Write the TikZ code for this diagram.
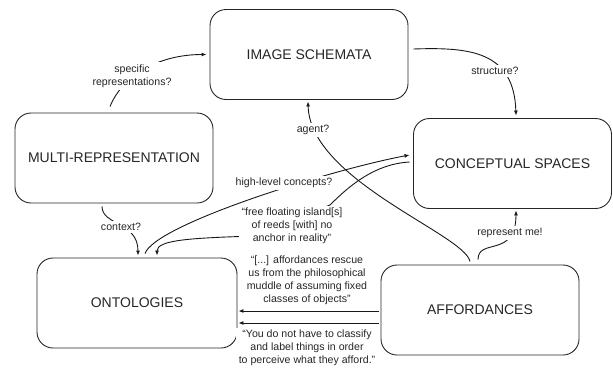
\documentclass[tikz,border=0pt]{standalone}
\usepackage{fontspec}
\setmainfont{Liberation Sans}
\usetikzlibrary{arrows.meta,calc}
\tikzset{
  box/.style={draw=black!85, line width=0.9pt, rounded corners=16pt, minimum width=198pt, minimum height=90pt, inner sep=0pt, font=\fontsize{14}{16}\selectfont, text=black!85},
  lbl/.style={fill=white, inner sep=2.5pt, align=center, font=\fontsize{10.6}{12.9}\selectfont, text=black!85},
  conn/.style={draw=black!90, line width=0.9pt, -{Latex[length=5pt,width=4pt]}}
}
\begin{document}
\begin{tikzpicture}[x=1pt,y=-1pt]
\useasboundingbox (0,0) rectangle (613,370);
% boxes
\node[box] (is) at (309,54.5) {IMAGE SCHEMATA};
\node[box] (mr) at (114,158) {MULTI-REPRESENTATION};
\node[box] (cs) at (512.5,163.5) {CONCEPTUAL SPACES};
\node[box,minimum width=200pt] (ont) at (137,303) {\raisebox{-5pt}{ONTOLOGIES}};
\node[box] (aff) at (480,310) {AFFORDANCES};
% connectors
\draw[conn] ([shift={(-4,-6)}]mr.north) .. controls +(13,-32) and +(-47,0) .. ([shift={(-3,0)}]is.west);
\draw[conn] ([shift={(5,-5.5)}]is.east) .. controls +(57,-2) and +(-2,-64) .. ([shift={(3.5,-2.5)}]cs.north);
\draw[conn] ([shift={(-10,-3)}]aff.north) .. controls +(-5,-27) and +(2,79) .. ([shift={(-1,1.5)}]is.south);
\draw[conn] ([shift={(8,-4)}]ont.north) .. controls +(10,-29) and +(-80,15) .. ([shift={(-3.5,-8.5)}]cs.west);
\draw[conn] ([shift={(-3.5,-1.5)}]cs.west) .. controls (375,164) and (350,185) .. (330,205) -- (255,236) .. controls (190,238) and (157,240) .. ([shift={(20,-2)}]ont.north);
\draw[conn] ([shift={(-12,3)}]mr.south) .. controls +(0,19) and +(0,-34) .. ([shift={(1,-2)}]ont.north);
\draw[conn] ([shift={(-2,-5)}]aff.north) .. controls +(0,-22) and +(0,48) .. ([shift={(3.5,1.5)}]cs.south);
\draw[conn] ([shift={(-2,1)}]aff.west) -- ([shift={(1,8)}]ont.east);
\draw[conn] ([shift={(-2,13)}]aff.west) -- ([shift={(1,20)}]ont.east);
% labels
\node[lbl] (l1) at (132,76) {specific\\representations?};
\node[lbl] (l2) at (495,71) {structure?};
\node[lbl] (l3) at (313,130) {agent?};
\node[lbl] (l4) at (284,183) {high-level concepts?};
\node[lbl] (l5) at (121,227) {context?};
\node[lbl] (l6) at (292,226) {“free floating island[s]\\of reeds [with] no\\anchor in reality”};
\node[lbl] (l7) at (307,280) {“[...] affordances rescue\\us from the philosophical\\muddle of assuming fixed\\classes of objects”};
\node[lbl] (l8) at (307,348) {“You do not have to classify\\and label things in order\\to perceive what they afford.”};
\node[lbl] (l9) at (510,233) {represent me!};
\end{tikzpicture}
\end{document}
